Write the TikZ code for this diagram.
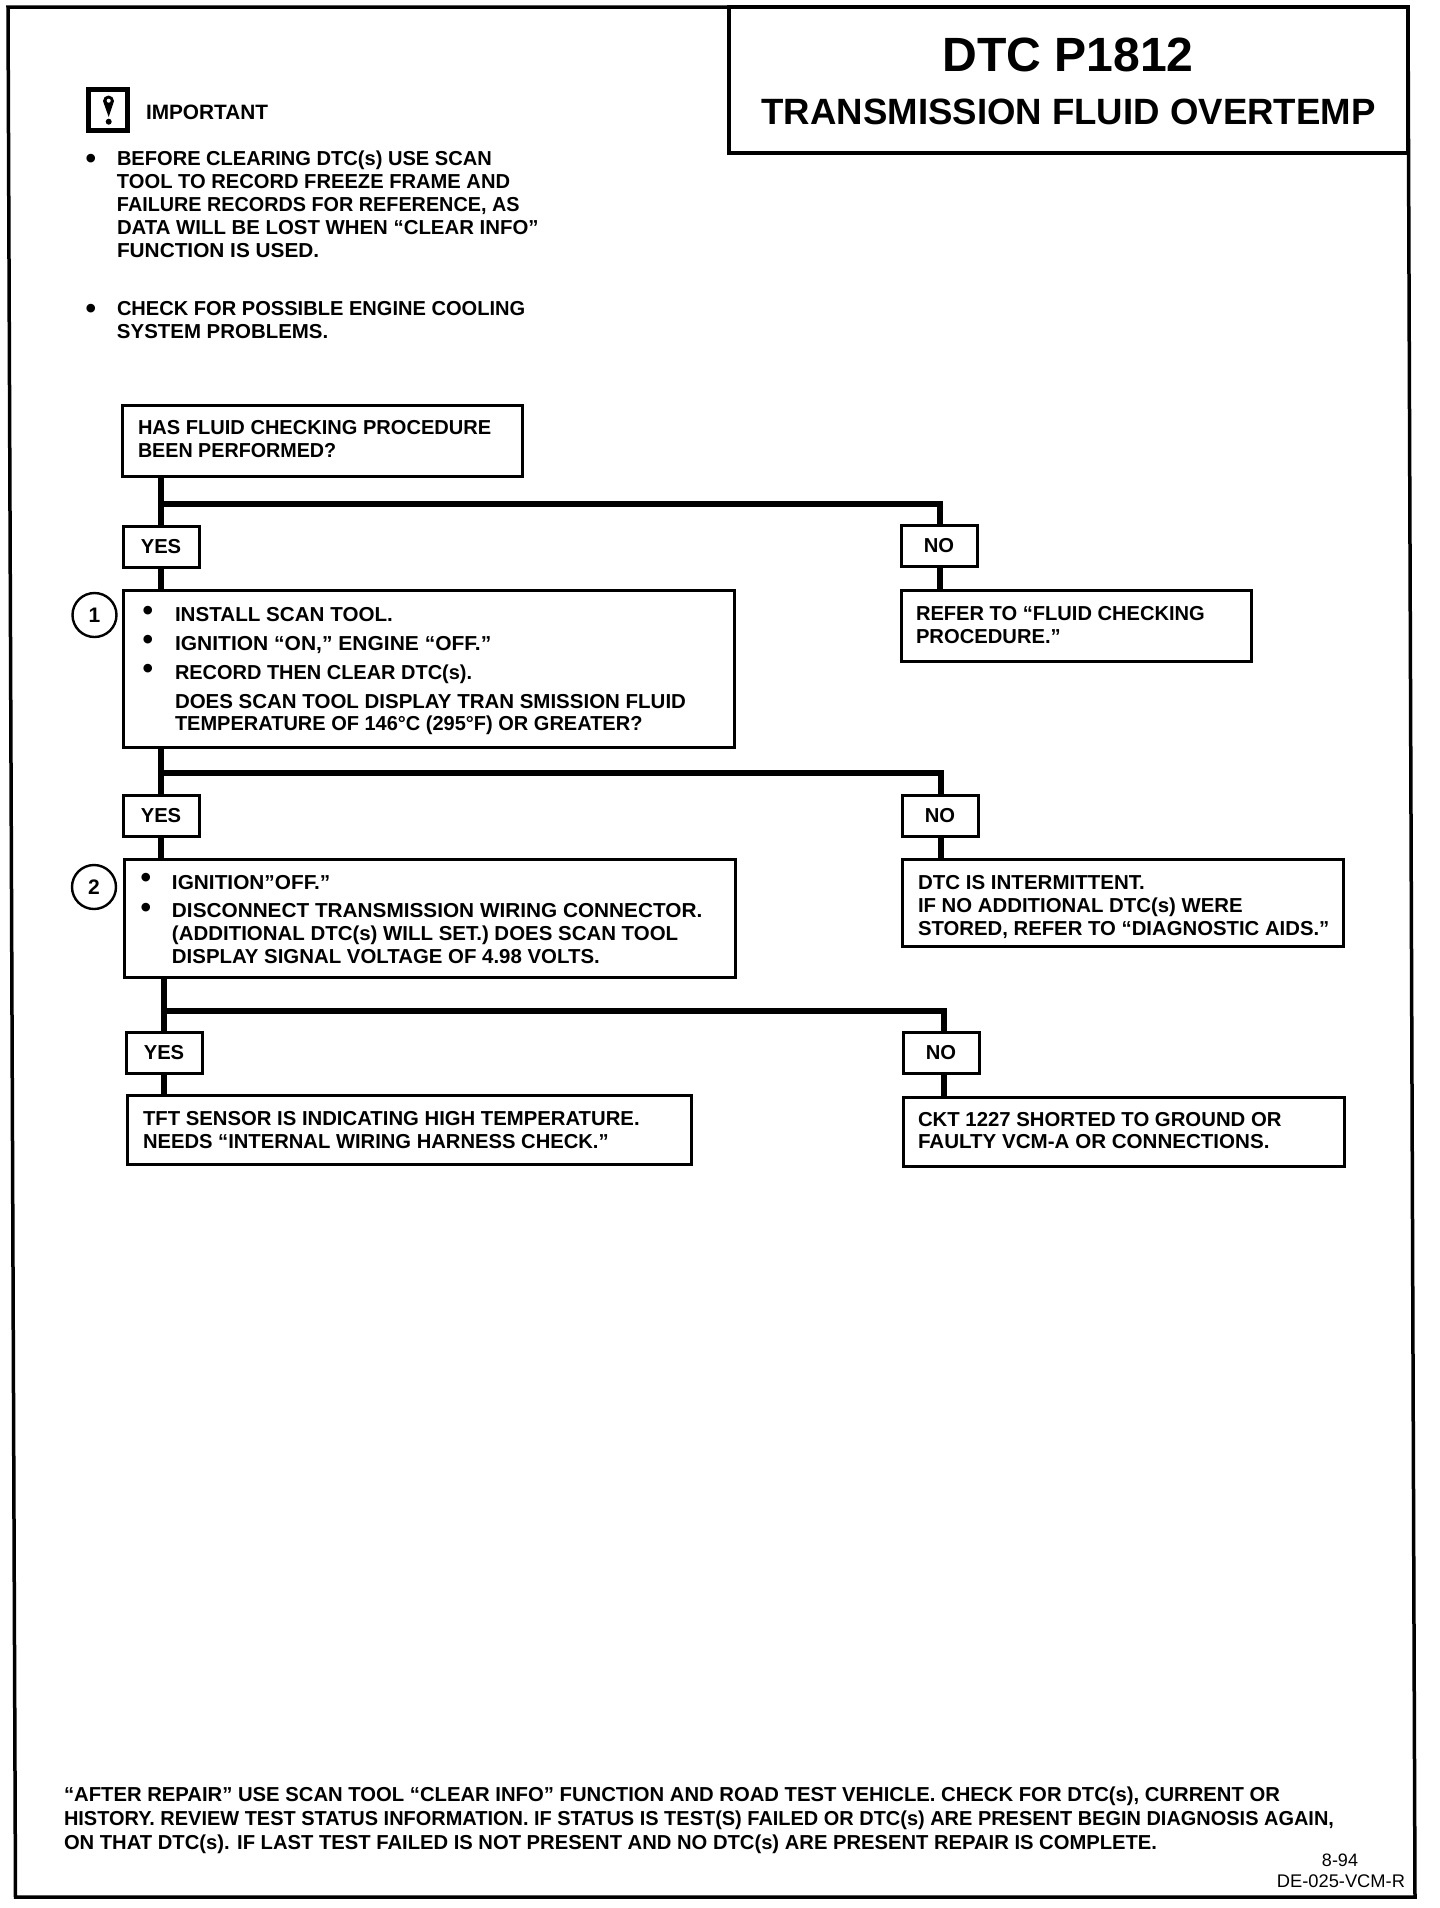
\documentclass[tikz,border=0pt]{standalone}
\usepackage{graphicx}
\usepackage{fontspec}
\setmainfont{Liberation Sans}
\newlength\pxu
\setlength\pxu{0.5pt}
% parbox of exact size with exact first baseline: w h textx baseline text
\newcommand{\boxtext}[5]{\parbox[c][#2\pxu][t]{#1\pxu}{%
  \fontsize{10.1pt}{11.6pt}\selectfont\bfseries
  \lineskiplimit=-100pt \parindent=0pt \raggedright \leftskip=#3\pxu\relax
  \vspace*{\dimexpr#4\pxu-10pt\relax}\rule{0pt}{10pt}#5\par}}
% name, style, x1, y1, x2, y2, text x, first baseline y, text
\newcommand{\blk}[9]{%
  \pgfmathsetmacro\bw{#5-#3}\pgfmathsetmacro\bh{#6-#4}%
  \pgfmathsetmacro\bx{#7-#3}\pgfmathsetmacro\by{#8-#4}%
  \node[#2,anchor=north west] (#1) at (#3,#4) {\boxtext{\bw}{\bh}{\bx}{\by}{#9}};}
% bullet: raise, distance from bullet centre to text
\newcommand{\bul}[2]{\leavevmode\llap{\raisebox{#1\pxu}{\fontsize{15pt}{15pt}\selectfont\textbullet}\hspace{\dimexpr#2\pxu-5.25\pxu\relax}}}
% horizontal fit of one line
\newcommand{\hs}[2]{\scalebox{#1}[1]{#2}}
\tikzset{
  blockbase/.style={inner sep=0pt,outer sep=0pt},
  flowbox/.style={blockbase,draw=black,line width=1.5pt,fill=white},
  plainblock/.style={blockbase},
  answer/.style={draw=black,line width=1.5pt,fill=white,inner sep=0pt,outer sep=0pt,
     anchor=north west,font=\fontsize{10.1pt}{11.6pt}\selectfont\bfseries,
     minimum width=38pt,minimum height=20.75pt},
  stepnum/.style={circle,draw=black,line width=1.2pt,inner sep=0pt,outer sep=0pt,
     minimum size=22pt,font=\fontsize{10.5pt}{11pt}\selectfont\bfseries},
  trunk/.style={draw=black,line width=3pt},
  branch/.style={draw=black,line width=2.8pt,line join=miter},
  frameline/.style={draw=black,line width=1.75pt,line join=miter}
}
\begin{document}
\begin{tikzpicture}[x=0.5pt,y=-0.5pt]
\useasboundingbox (0,0) rectangle (1440,1908);
\fill[white] (0,0) rectangle (1440,1908);

% page frame (slightly skewed, as scanned)
\coordinate (ftl) at (8,7);
\coordinate (ftr) at (1408,7);
\coordinate (fbr) at (1415,1897);
\coordinate (fbl) at (15.5,1897);
\draw[frameline] (ftl) -- (ftr) -- (fbr) -- (fbl) -- cycle;

% title
\blk{title}{flowbox,line width=1.75pt}{729}{7}{1408}{153}{729}{71}{%
  \hspace*{213.5\pxu}\smash{\fontsize{24.05pt}{26.5pt}\selectfont DTC P1812}\\
  \hspace*{32.5\pxu}{\fontsize{18.3pt}{26.5pt}\selectfont TRANSMISSION FLUID OVERTEMP}\fontsize{18.3pt}{26.5pt}\selectfont}

% important icon
\node[draw=black,line width=2.5pt,inner sep=0pt,outer sep=0pt,anchor=north west,minimum width=19.5pt,minimum height=20.2pt] (warn) at (88.5,89.8) {};
\fill[black] (103,101) arc[start angle=180,end angle=360,x radius=5.5,y radius=5.5] -- (108.7,117) -- cycle;
\fill[white] (108.7,100.7) circle[radius=1pt];
\fill[black] (108.7,121.7) circle[radius=1.5pt];
\node[plainblock,anchor=base west,font=\fontsize{10.4pt}{11.6pt}\selectfont\bfseries] (imp) at (146,119) {IMPORTANT};

\blk{note1}{plainblock}{100}{145}{560}{270}{117}{165}{%
  \bul{-3}{26}\hs{.994}{BEFORE CLEARING DTC(s) USE SCAN}\\
  \hs{.997}{TOOL TO RECORD FREEZE FRAME AND}\\
  \hs{.98}{FAILURE RECORDS FOR REFERENCE, AS}\\
  \hs{1.009}{DATA WILL BE LOST WHEN “CLEAR INFO”}\\
  \hs{1.03}{FUNCTION IS USED.}}
\blk{note2}{plainblock}{100}{295}{560}{350}{117}{315}{%
  \bul{-3}{26}\hs{.994}{CHECK FOR POSSIBLE ENGINE COOLING}\\
  \hs{1.012}{SYSTEM PROBLEMS.}}

% question
\blk{q0}{flowbox}{122.5}{405}{522}{476}{138}{434.5}{%
  \hs{.993}{HAS FLUID CHECKING PROCEDURE}\\
  \hs{.976}{BEEN PERFORMED?}}

% level 1
\node[answer] (yes1) at (123,526) {YES};
\node[answer] (no1) at (901,525) {NO};
\blk{b1}{flowbox}{123.5}{590}{734}{747}{175}{621}{%
  \bul{1}{27}\hs{1.02}{INSTALL SCAN TOOL.}\\[2.9pt]
  \bul{0.5}{27}\hs{1.04}{IGNITION “ON,” ENGINE “OFF.”}\\[2.9pt]
  \bul{0.5}{27}\hs{.988}{RECORD THEN CLEAR DTC(s).}\\[2.9pt]
  \hs{1.014}{DOES SCAN TOOL DISPLAY TRAN SMISSION FLUID}\\[-0.3pt]
  \hs{.99}{TEMPERATURE OF 146°C (295°F) OR GREATER?}}
\node[stepnum] (c1) at (94.5,615) {1};
\blk{r1}{flowbox}{901.5}{590}{1251}{661}{916}{620.5}{%
  \hs{.995}{REFER TO “FLUID CHECKING}\\
  PROCEDURE.”}

% level 2
\node[answer] (yes2) at (123,795) {YES};
\node[answer] (no2) at (902,795) {NO};
\blk{b2}{flowbox}{124.5}{859}{735}{977}{172}{889}{%
  \bul{2}{26}\hs{1.03}{IGNITION”OFF.”}\\[2.7pt]
  \bul{0}{26}\hs{1.028}{DISCONNECT TRANSMISSION WIRING CONNECTOR.}\\
  \hs{1.012}{(ADDITIONAL DTC(s) WILL SET.) DOES SCAN TOOL}\\[-0.2pt]
  \hs{1.01}{DISPLAY SIGNAL VOLTAGE OF 4.98 VOLTS.}}
\node[stepnum] (c2) at (94,887) {2};
\blk{r2}{flowbox}{902.5}{859}{1343.5}{946}{918}{889.5}{%
  \hs{1.016}{DTC IS INTERMITTENT.}\\
  \hs{1.008}{IF NO ADDITIONAL DTC(s) WERE}\\
  \hs{1.006}{STORED, REFER TO “DIAGNOSTIC AIDS.”}}

% level 3
\node[answer] (yes3) at (126,1032) {YES};
\node[answer] (no3) at (903,1032) {NO};
\blk{b3}{flowbox}{127.5}{1095}{691}{1164}{143}{1125.5}{%
  \hs{1.005}{TFT SENSOR IS INDICATING HIGH TEMPERATURE.}\\[-0.2pt]
  \hs{1.0}{NEEDS “INTERNAL WIRING HARNESS CHECK.”}}
\blk{r3}{flowbox}{903.5}{1097}{1344}{1166}{918}{1126}{%
  \hs{1.007}{CKT 1227 SHORTED TO GROUND OR}\\[-0.2pt]
  \hs{1.018}{FAULTY VCM-A OR CONNECTIONS.}}

% connectors
\coordinate (j1) at (161,504);
\coordinate (t1) at (940,504);
\draw[trunk] (yes1.north |- q0.south) -- (yes1.north);
\draw[branch] (j1) -- (t1) -- (t1 |- no1.north);
\draw[trunk] (yes1.south) -- (yes1.south |- b1.north);
\draw[trunk] (t1 |- no1.south) -- (t1 |- r1.north);

\coordinate (j2) at (161,773);
\coordinate (t2) at (941,773);
\draw[trunk] (yes2.north |- b1.south) -- (yes2.north);
\draw[branch] (j2) -- (t2) -- (t2 |- no2.north);
\draw[trunk] (yes2.south) -- (yes2.south |- b2.north);
\draw[trunk] (t2 |- no2.south) -- (t2 |- r2.north);

\coordinate (j3) at (164,1011);
\coordinate (t3) at (944,1011);
\draw[trunk] (yes3.north |- b2.south) -- (yes3.north);
\draw[branch] (j3) -- (t3) -- (t3 |- no3.north);
\draw[trunk] (yes3.south) -- (yes3.south |- b3.north);
\draw[trunk] (t3 |- no3.south) -- (t3 |- r3.north);

% footer
\blk{foot}{plainblock}{60}{1780}{1400}{1860}{64}{1801}{%
  \hs{1.003}{“AFTER REPAIR” USE SCAN TOOL “CLEAR INFO” FUNCTION AND ROAD TEST VEHICLE. CHECK FOR DTC(s), CURRENT OR}\\[0.4pt]
  \hs{.988}{HISTORY. REVIEW TEST STATUS INFORMATION. IF STATUS IS TEST(S) FAILED OR DTC(s) ARE PRESENT BEGIN DIAGNOSIS AGAIN,}\\[0.4pt]
  ON THAT DTC(s). IF LAST TEST FAILED IS NOT PRESENT AND NO DTC(s) ARE PRESENT REPAIR IS COMPLETE.}
\node[plainblock,anchor=base,font=\fontsize{9pt}{10pt}\selectfont] (date) at (1340,1866) {8-94};
\node[plainblock,anchor=base east,font=\fontsize{9.15pt}{10pt}\selectfont] (code) at (1405,1887) {DE-025-VCM-R};
\end{tikzpicture}
\end{document}
